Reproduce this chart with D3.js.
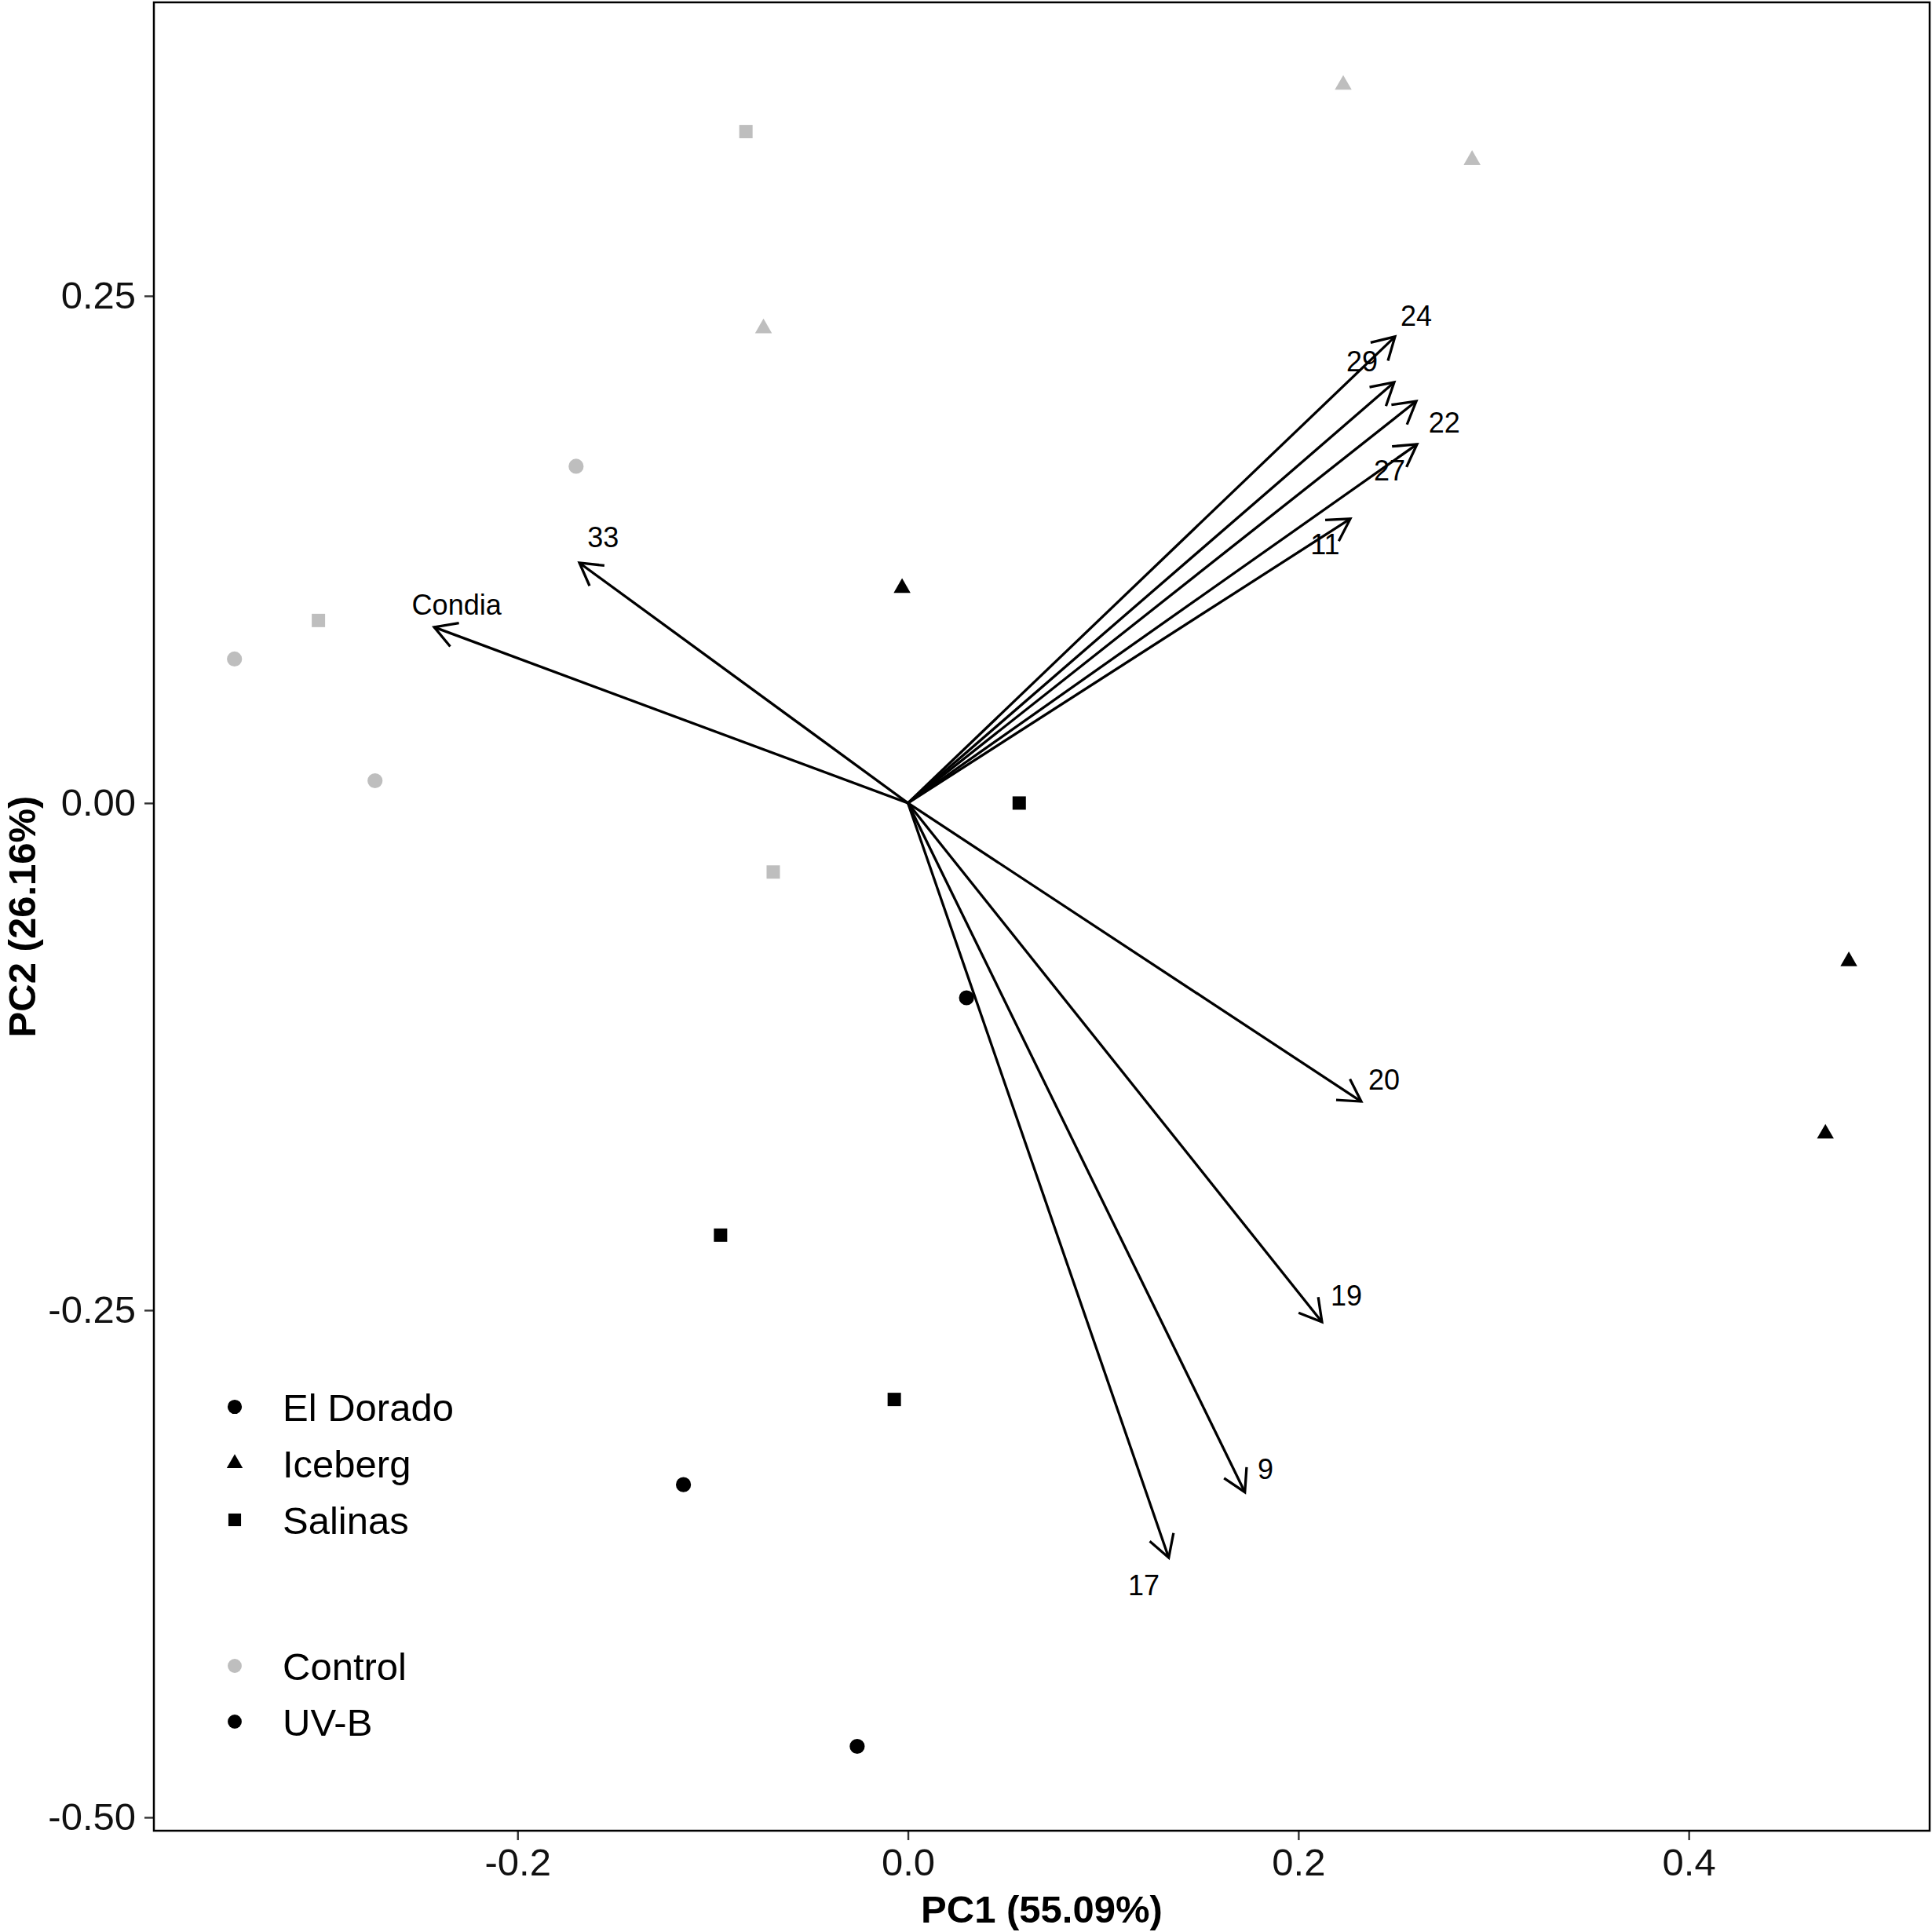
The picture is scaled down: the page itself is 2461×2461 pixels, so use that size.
<!DOCTYPE html>
<html>
<head>
<meta charset="utf-8">
<script src="https://cdn.jsdelivr.net/npm/d3@7"></script>
<style>
  body { margin: 0; background: #fff; }
  svg { display: block; font-family: "Liberation Sans", Arial, sans-serif; }
</style>
</head>
<body>
<svg id="chart" width="2461" height="2461"></svg>
<script>
// sample scores (PC1, PC2)
var genotypes = ["El Dorado", "Iceberg", "Salinas"];
var treatments = ["Control", "UV-B"];

var sampleGenotype = ["El Dorado", "El Dorado", "El Dorado", "Salinas", "Salinas", "Salinas", "Iceberg", "Iceberg", "Iceberg",
                      "El Dorado", "El Dorado", "El Dorado", "Salinas", "Salinas", "Salinas", "Iceberg", "Iceberg", "Iceberg"];
var sampleTreatment = ["Control", "Control", "Control", "Control", "Control", "Control", "Control", "Control", "Control",
                       "UV-B", "UV-B", "UV-B", "UV-B", "UV-B", "UV-B", "UV-B", "UV-B", "UV-B"];
var samplePC1 = [-0.170, -0.345, -0.273, -0.083, -0.302, -0.069, 0.223, 0.289, -0.074,
                 0.030, -0.115, -0.026, 0.057, -0.096, -0.007, -0.003, 0.482, 0.470];
var samplePC2 = [0.166, 0.071, 0.011, 0.331, 0.090, -0.034, 0.354, 0.317, 0.234,
                 -0.096, -0.336, -0.465, 0.000, -0.213, -0.294, 0.106, -0.078, -0.163];

// loading arrows
var variables = ["24", "29", "22", "27", "11", "33", "Condia", "20", "19", "9", "17"];
var loadPC1 = [0.2495, 0.2491, 0.2604, 0.2608, 0.2266, -0.1683, -0.2427, 0.2322, 0.2121, 0.1726, 0.1336];
var loadPC2 = [0.2299, 0.2074, 0.1981, 0.1769, 0.1401, 0.1184, 0.0867, -0.1471, -0.2558, -0.3397, -0.3720];
var labelPC1 = [0.2604, 0.2326, 0.2748, 0.2467, 0.2137, -0.1562, -0.2312, 0.2439, 0.2246, 0.1832, 0.1208];
var labelPC2 = [0.2403, 0.2179, 0.1877, 0.1641, 0.1277, 0.1312, 0.0979, -0.1362, -0.2425, -0.3282, -0.3854];

var xTicks = [-0.2, 0, 0.2, 0.4];
var xTickLabels = ["-0.2", "0.0", "0.2", "0.4"];
var yTicks = [0.25, 0, -0.25, -0.5];
var yTickLabels = ["0.25", "0.00", "-0.25", "-0.50"];

(function () {
var svg = d3.select("#chart");
svg.append("rect").attr("width", 2461).attr("height", 2461).attr("fill", "#fff");

var pLeft = 196, pRight = 2458, pTop = 3, pBottom = 2332;

var x = d3.scaleLinear().domain([-0.3863, 0.5234]).range([pLeft, pRight]);
var y = d3.scaleLinear().domain([0.3947, -0.5066]).range([pTop, pBottom]);

var shapeScale = d3.scaleOrdinal().domain(genotypes).range([d3.symbolCircle, d3.symbolTriangle, d3.symbolSquare]);
var sizeScale = d3.scaleOrdinal().domain(genotypes).range([290, 200, 289]);
var colorScale = d3.scaleOrdinal().domain(treatments).range(["#bebebe", "#000000"]);

// axes
var xAxis = d3.axisBottom(x).tickValues(xTicks)
    .tickFormat(function (d, i) { return xTickLabels[i]; })
    .tickSize(12).tickPadding(10);
var yAxis = d3.axisLeft(y).tickValues(yTicks)
    .tickFormat(function (d, i) { return yTickLabels[i]; })
    .tickSize(12).tickPadding(11);

var gx = svg.append("g").attr("transform", "translate(0," + pBottom + ")").call(xAxis);
var gy = svg.append("g").attr("transform", "translate(" + pLeft + ",0)").call(yAxis);
[gx, gy].forEach(function (g) {
    g.select(".domain").remove();
    g.selectAll(".tick line").attr("stroke", "#333").attr("stroke-width", 2.4);
    g.selectAll(".tick text").attr("fill", "#111").style("font-size", "49px")
        .style("font-family", "'Liberation Sans', Arial, sans-serif");
});

// axis titles
svg.append("text")
    .attr("x", (pLeft + pRight) / 2).attr("y", 2449)
    .attr("text-anchor", "middle")
    .style("font-size", "49px").style("font-weight", "bold")
    .text("PC1 (55.09%)");
svg.append("text")
    .attr("transform", "translate(45," + ((pTop + pBottom) / 2) + ") rotate(-90)")
    .attr("text-anchor", "middle")
    .style("font-size", "49px").style("font-weight", "bold")
    .text("PC2 (26.16%)");

// points
var samples = samplePC1.map(function (d, i) {
    return { pc1: d, pc2: samplePC2[i], genotype: sampleGenotype[i], treatment: sampleTreatment[i] };
});

svg.append("g").selectAll("path")
    .data(samples)
    .enter().append("path")
    .attr("transform", function (d) { return "translate(" + x(d.pc1) + "," + y(d.pc2) + ")"; })
    .attr("d", function (d) { return d3.symbol().type(shapeScale(d.genotype)).size(sizeScale(d.genotype))(); })
    .attr("fill", function (d) { return colorScale(d.treatment); });

// arrows
var loadings = variables.map(function (v, i) {
    return { name: v, pc1: loadPC1[i], pc2: loadPC2[i], lx: labelPC1[i], ly: labelPC2[i] };
});

var headLen = 32, headAng = Math.PI / 6;
var arrowG = svg.append("g").attr("fill", "none").attr("stroke", "#000").attr("stroke-width", 3.3);

arrowG.selectAll("line")
    .data(loadings)
    .enter().append("line")
    .attr("x1", x(0)).attr("y1", y(0))
    .attr("x2", function (d) { return x(d.pc1); })
    .attr("y2", function (d) { return y(d.pc2); });

arrowG.selectAll("path")
    .data(loadings)
    .enter().append("path")
    .attr("d", function (d) {
        var tx = x(d.pc1), ty = y(d.pc2);
        var a = Math.atan2(ty - y(0), tx - x(0));
        var p = d3.path();
        p.moveTo(tx - headLen * Math.cos(a - headAng), ty - headLen * Math.sin(a - headAng));
        p.lineTo(tx, ty);
        p.lineTo(tx - headLen * Math.cos(a + headAng), ty - headLen * Math.sin(a + headAng));
        return p.toString();
    });

svg.append("g").selectAll("text")
    .data(loadings)
    .enter().append("text")
    .attr("x", function (d) { return x(d.lx); })
    .attr("y", function (d) { return y(d.ly) + 13; })
    .attr("text-anchor", "middle")
    .style("font-size", "36px")
    .text(function (d) { return d.name; });

// legends (no titles)
var legendX = 299, textX = 360;
var shapeRows = [1792, 1864, 1936];
var colorRows = [2122, 2193];

var lg = svg.append("g");
genotypes.forEach(function (g, i) {
    lg.append("path")
        .attr("transform", "translate(" + legendX + "," + shapeRows[i] + ")")
        .attr("d", d3.symbol().type(shapeScale(g)).size(sizeScale(g) * 0.9)())
        .attr("fill", "#000");
    lg.append("text").attr("x", textX).attr("y", shapeRows[i] + 18)
        .style("font-size", "49px").text(g);
});
treatments.forEach(function (t, i) {
    lg.append("path")
        .attr("transform", "translate(" + legendX + "," + colorRows[i] + ")")
        .attr("d", d3.symbol().type(d3.symbolCircle).size(250)())
        .attr("fill", colorScale(t));
    lg.append("text").attr("x", textX).attr("y", colorRows[i] + 18)
        .style("font-size", "49px").text(t);
});

// panel border
svg.append("rect")
    .attr("x", pLeft).attr("y", pTop)
    .attr("width", pRight - pLeft).attr("height", pBottom - pTop)
    .attr("fill", "none").attr("stroke", "#000").attr("stroke-width", 2.5);
})();
</script>
</body>
</html>
